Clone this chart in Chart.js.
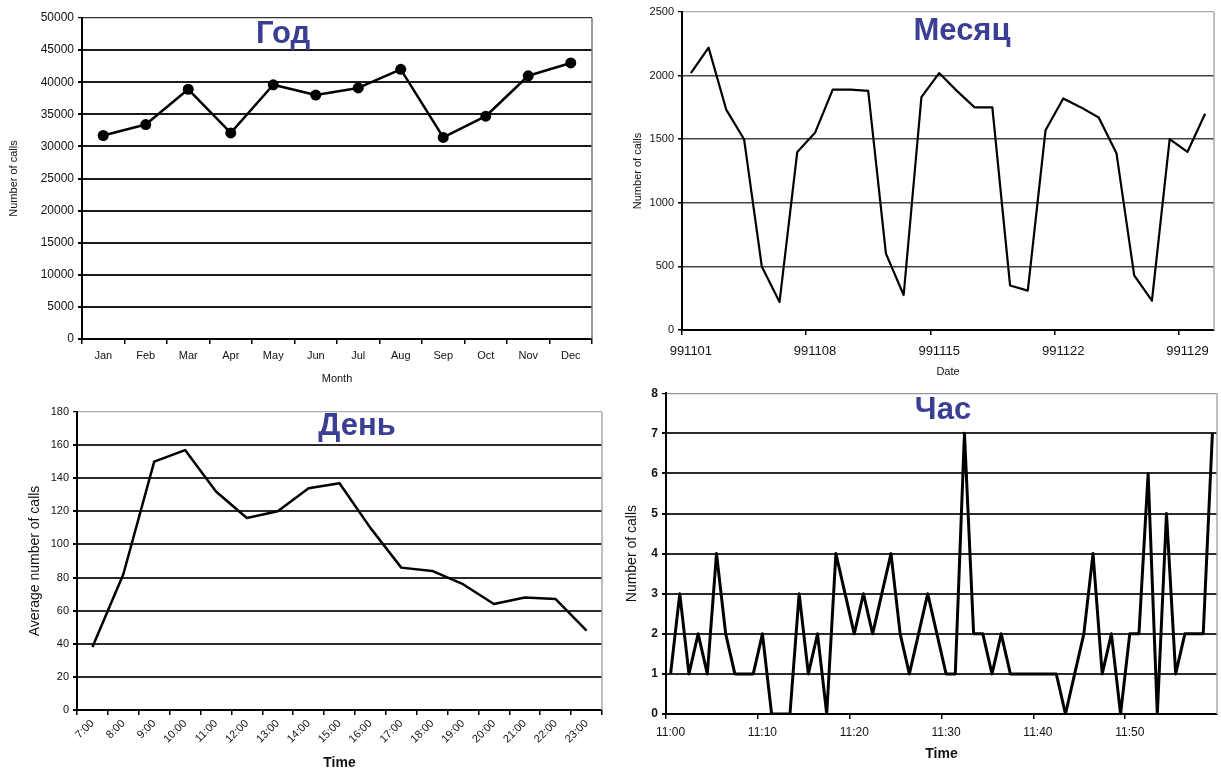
<!DOCTYPE html>
<html>
<head>
<meta charset="utf-8">
<script src="https://cdn.jsdelivr.net/npm/chart.js@4"></script>
<style>
  html, body { margin: 0; padding: 0; background: #fff; }
  body { width: 1221px; height: 772px; position: relative; overflow: hidden; }
  canvas { position: absolute; }
  .ttl { position: absolute; font: bold 31px "Liberation Sans", Arial, sans-serif; color: #3b3f93; white-space: nowrap; transform: translate(-50%, -50%); }
</style>
</head>
<body>
<canvas id="cYear" width="610" height="390" style="left:0;top:0"></canvas>
<canvas id="cMonth" width="611" height="390" style="left:610px;top:0"></canvas>
<canvas id="cDay" width="610" height="382" style="left:0;top:390px"></canvas>
<canvas id="cHour" width="611" height="390" style="left:610px;top:382px"></canvas>
<div class="ttl" style="left:283px;top:33px">Год</div>
<div class="ttl" style="left:962px;top:30px">Месяц</div>
<div class="ttl" style="left:357px;top:425px">День</div>
<div class="ttl" style="left:943px;top:409px">Час</div>
<script>
// year: calls per month
const yearMonths = ['Jan', 'Feb', 'Mar', 'Apr', 'May', 'Jun', 'Jul', 'Aug', 'Sep', 'Oct', 'Nov', 'Dec'];
const yearCalls = [31700, 33400, 38900, 32100, 39600, 38000, 39100, 42000, 31400, 34700, 41000, 43000];

// month: calls per day (Nov 1999)
const monthDates = ['991101', '991102', '991103', '991104', '991105', '991106', '991107', '991108', '991109', '991110',
  '991111', '991112', '991113', '991114', '991115', '991116', '991117', '991118', '991119', '991120',
  '991121', '991122', '991123', '991124', '991125', '991126', '991127', '991128', '991129', '991130'];
const monthCalls = [2020, 2220, 1730, 1500, 500, 220, 1400, 1550, 1890, 1890,
  1880, 600, 275, 1830, 2020, 1880, 1750, 1750, 350, 310,
  1570, 1820, 1750, 1670, 1390, 430, 230, 1500, 1400, 1700];

// day: average calls per hour
const dayHours = ['7:00', '8:00', '9:00', '10:00', '11:00', '12:00', '13:00', '14:00', '15:00',
  '16:00', '17:00', '18:00', '19:00', '20:00', '21:00', '22:00', '23:00'];
const dayCalls = [38, 82, 150, 157, 132, 116, 120, 134, 137, 110, 86, 84, 76, 64, 68, 67, 48];

// hour: calls per minute
const hourMinutes = ['11:00', '11:01', '11:02', '11:03', '11:04', '11:05', '11:06', '11:07', '11:08', '11:09',
  '11:10', '11:11', '11:12', '11:13', '11:14', '11:15', '11:16', '11:17', '11:18', '11:19',
  '11:20', '11:21', '11:22', '11:23', '11:24', '11:25', '11:26', '11:27', '11:28', '11:29',
  '11:30', '11:31', '11:32', '11:33', '11:34', '11:35', '11:36', '11:37', '11:38', '11:39',
  '11:40', '11:41', '11:42', '11:43', '11:44', '11:45', '11:46', '11:47', '11:48', '11:49',
  '11:50', '11:51', '11:52', '11:53', '11:54', '11:55', '11:56', '11:57', '11:58', '11:59'];
const hourCalls = [1, 3, 1, 2, 1, 4, 2, 1, 1, 1,
  2, 0, 0, 0, 3, 1, 2, 0, 4, 3,
  2, 3, 2, 3, 4, 2, 1, 2, 3, 2,
  1, 1, 7, 2, 2, 1, 2, 1, 1, 1,
  1, 1, 1, 0, 1, 2, 4, 1, 2, 0,
  2, 2, 6, 0, 5, 1, 2, 2, 2, 7];

const FONT = '"Liberation Sans", Arial, sans-serif';
Chart.defaults.font.family = FONT;
Chart.defaults.color = '#111';

// gray right-hand edge of the plot area, like the old Excel frame
const rightEdge = {
  id: 'rightEdge',
  afterDraw(chart, args, opts) {
    const a = chart.chartArea;
    const ctx = chart.ctx;
    ctx.save();
    ctx.strokeStyle = opts.color || '#999';
    ctx.lineWidth = opts.width || 1.5;
    ctx.beginPath();
    ctx.moveTo(a.right, a.top);
    ctx.lineTo(a.right, a.bottom);
    ctx.stroke();
    ctx.restore();
  }
};

function makeChart(id, o) {
  return new Chart(document.getElementById(id), {
    type: 'line',
    data: {
      labels: o.labels,
      datasets: [{
        data: o.values,
        borderColor: '#000',
        backgroundColor: '#000',
        borderWidth: o.lineWidth,
        borderJoinStyle: 'round',
        pointRadius: o.pointRadius || 0,
        pointBorderWidth: 0,
        tension: 0,
        fill: false
      }]
    },
    options: {
      responsive: false,
      animation: false,
      devicePixelRatio: 1,
      events: [],
      layout: { padding: o.padding },
      plugins: {
        legend: { display: false },
        tooltip: { enabled: false },
        rightEdge: { color: o.edgeColor }
      },
      scales: {
        x: {
          type: 'category',
          offset: true,
          afterFit: (s) => { s.height = o.xHeight; },
          border: { color: '#000', width: 2 },
          grid: {
            offset: true,
            drawOnChartArea: false,
            tickLength: 5,
            lineWidth: 1.5,
            color: o.xTickColor || '#000'
          },
          ticks: {
            autoSkip: false,
            minRotation: o.rotation || 0,
            maxRotation: o.rotation || 0,
            padding: o.xPad,
            font: { size: o.xFont },
            callback: o.xCallback || ((v, i) => o.labels[i])
          },
          title: {
            display: true,
            text: o.xTitle,
            padding: 0,
            font: { size: o.xTitleSize, weight: o.xTitleWeight || 'normal' }
          }
        },
        y: {
          min: 0,
          max: o.max,
          afterFit: (s) => { s.width = o.yWidth; },
          border: { color: '#000', width: 2 },
          grid: {
            tickLength: 4,
            lineWidth: (c) => (c.tick && c.tick.value === o.max) ? 1.2 : o.gridWidth,
            color: (c) => (c.tick && c.tick.value === o.max) ? o.topColor : o.gridColor,
            tickColor: '#000'
          },
          ticks: {
            stepSize: o.step,
            padding: 4,
            font: { size: o.yFont, weight: o.yWeight || 'normal' },
            callback: (v) => String(v)
          },
          title: {
            display: true,
            text: o.yTitle,
            padding: 0,
            font: { size: o.yTitleSize }
          }
        }
      }
    },
    plugins: [rightEdge]
  });
}

makeChart('cYear', {
  labels: yearMonths, values: yearCalls,
  max: 50000, step: 5000,
  lineWidth: 2.5, pointRadius: 5.5,
  padding: { left: 7, top: 18, right: 18, bottom: 4 },
  yWidth: 75, xHeight: 47,
  xPad: 5, xFont: 11, yFont: 12,
  xTitle: 'Month', xTitleSize: 11,
  yTitle: 'Number of calls', yTitleSize: 11,
  gridColor: '#1a1a1a', gridWidth: 2, topColor: '#333', edgeColor: '#777'
});

makeChart('cMonth', {
  labels: monthDates, values: monthCalls,
  max: 2500, step: 500,
  lineWidth: 2.2,
  padding: { left: 21, top: 12, right: 7, bottom: 11 },
  yWidth: 51, xHeight: 49,
  xPad: 9, xFont: 13, yFont: 11,
  xCallback: (v, i) => (i % 7 === 0 ? monthDates[i] : ''),
  xTickColor: (c) => (c.index % 7 === 0 ? '#000' : 'rgba(0,0,0,0)'),
  xTitle: 'Date', xTitleSize: 11,
  yTitle: 'Number of calls', yTitleSize: 11,
  gridColor: '#444', gridWidth: 1.5, topColor: '#aaa', edgeColor: '#aaa'
});

makeChart('cDay', {
  labels: dayHours, values: dayCalls,
  max: 180, step: 20,
  lineWidth: 2.5,
  padding: { left: 27, top: 22, right: 8, bottom: 0 },
  yWidth: 50, xHeight: 62,
  xPad: 2, xFont: 11, yFont: 11, rotation: 45,
  xTitle: 'Time', xTitleSize: 14, xTitleWeight: 'bold',
  yTitle: 'Average number of calls', yTitleSize: 14,
  gridColor: '#2a2a2a', gridWidth: 2, topColor: '#aaa', edgeColor: '#aaa'
});

makeChart('cHour', {
  labels: hourMinutes, values: hourCalls,
  max: 8, step: 1,
  lineWidth: 3,
  padding: { left: 14, top: 7, right: 4, bottom: 9 },
  yWidth: 42, xHeight: 49,
  xPad: 6, xFont: 12, yFont: 12, yWeight: 'bold',
  xCallback: (v, i) => (i % 10 === 0 ? hourMinutes[i] : ''),
  xTickColor: (c) => (c.index % 10 === 0 ? '#000' : 'rgba(0,0,0,0)'),
  xTitle: 'Time', xTitleSize: 14, xTitleWeight: 'bold',
  yTitle: 'Number of calls', yTitleSize: 14,
  gridColor: '#2a2a2a', gridWidth: 2, topColor: '#999', edgeColor: '#aaa'
});
</script>
</body>
</html>
